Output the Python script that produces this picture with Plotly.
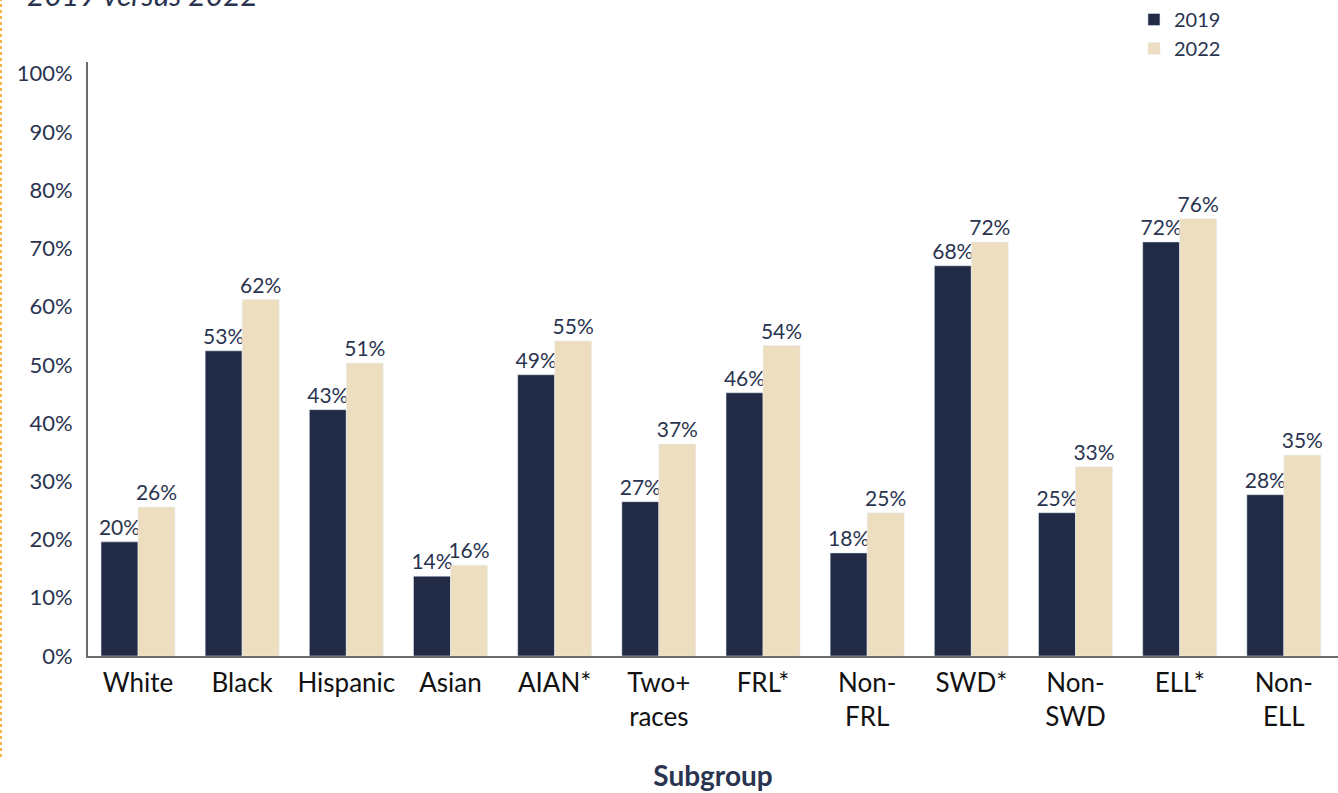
import plotly.graph_objects as go

categories = ["White", "Black", "Hispanic", "Asian", "AIAN*", "Two+<br>races", "FRL*",
              "Non-<br>FRL", "SWD*", "Non-<br>SWD", "ELL*", "Non-<br>ELL"]
values_2019 = [19.6, 52.4, 42.3, 13.7, 48.3, 26.5, 45.2, 17.7, 67.0, 24.6, 71.1, 27.7]
values_2022 = [25.6, 61.2, 50.3, 15.6, 54.1, 36.4, 53.3, 24.6, 71.1, 32.5, 75.1, 34.5]
labels_2019 = ["20%", "53%", "43%", "14%", "49%", "27%", "46%", "18%", "68%", "25%", "72%", "28%"]
labels_2022 = ["26%", "62%", "51%", "16%", "55%", "37%", "54%", "25%", "72%", "33%", "76%", "35%"]
y_ticks = [0, 10, 20, 30, 40, 50, 60, 70, 80, 90, 100]

NAVY = "#222b45"
BEIGE = "#eedec0"
TEXT = "#2a3450"
FONT = "Lato, Noto Sans, sans-serif"

fig = go.Figure()
fig.add_trace(go.Bar(x=list(range(len(categories))), y=values_2019, name="2019",
                     marker_color=NAVY, text=labels_2019, textposition="outside",
                     textfont=dict(size=21, color=TEXT, family=FONT),
                     constraintext="none", cliponaxis=False))
fig.add_trace(go.Bar(x=list(range(len(categories))), y=values_2022, name="2022",
                     marker_color=BEIGE, text=labels_2022, textposition="outside",
                     textfont=dict(size=21, color=TEXT, family=FONT),
                     constraintext="none", cliponaxis=False))

fig.update_layout(
    width=1338, height=793,
    margin=dict(l=88, r=0, t=62, b=137, autoexpand=False),
    plot_bgcolor="white", paper_bgcolor="white",
    barmode="group", bargap=0.29, bargroupgap=0,
    font=dict(family=FONT, color=TEXT),
    legend=dict(xref="container", yref="container", x=0.8475, y=1.009,
                xanchor="left", yanchor="top",
                font=dict(size=20, color=TEXT, family=FONT),
                itemwidth=30, tracegroupgap=2, bgcolor="rgba(0,0,0,0)"),
    showlegend=True,
    xaxis=dict(tickmode="array", tickvals=list(range(len(categories))), ticktext=categories,
               range=[-0.48, 11.52], showline=True, linecolor="#6b6b6b", linewidth=2,
               ticks="", tickfont=dict(size=26, color="#111111", family=FONT),
               ticklabelstandoff=3, automargin=False,
               title=dict(text="<b>Subgroup</b>", font=dict(size=28, color=TEXT, family=FONT),
                          standoff=35)),
    yaxis=dict(range=[0, 102], tickvals=y_ticks, ticktext=[f"{v}%" for v in y_ticks],
               showgrid=False, zeroline=False, showline=True, linecolor="#6b6b6b", linewidth=2,
               ticks="", tickfont=dict(size=22, color=TEXT, family=FONT),
               ticklabelstandoff=9, automargin=False),
)

fig.add_annotation(text="<i>2019 versus 2022</i>", xref="paper", yref="paper",
                   x=-0.0504, y=1.115, xanchor="left", yanchor="middle", showarrow=False,
                   font=dict(size=30, color=TEXT, family=FONT))

fig.add_shape(type="line", xref="paper", yref="paper", x0=-0.0696, x1=-0.0696,
              y0=-0.17, y1=1.11, line=dict(color="#f5b54a", width=2, dash="dot"))

fig.write_html("out.html", config={"displayModeBar": False},
               post_script="document.body.style.margin='0';")
